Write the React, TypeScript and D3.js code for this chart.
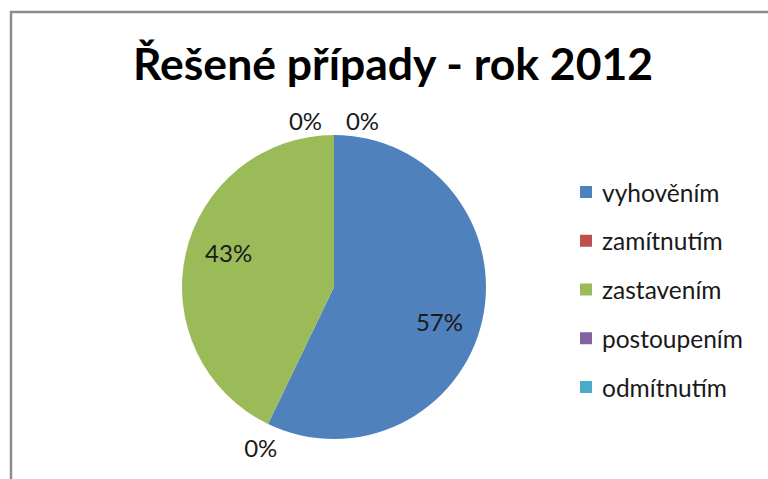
import React from 'react';
import * as d3 from 'd3';

const categories = ['vyhověním', 'zamítnutím', 'zastavením', 'postoupením', 'odmítnutím'];
const counts = [4, 0, 3, 0, 0];
const colors = ['#4F81BD', '#C0504D', '#9BBB59', '#8064A2', '#4BACC6'];
const title = 'Řešené případy - rok 2012';

const W = 768;
const H = 479;
const font = 'Lato, "Open Sans", sans-serif';

const App = () => {
  const cx = 334;
  const cy = 287;
  const r = 152;

  const total = d3.sum(counts);
  const pie = d3
    .pie<number>()
    .sort(null)
    .startAngle(0)
    .endAngle(2 * Math.PI)
    .value((d) => d);
  const arcs = pie(counts);

  const arc = d3.arc<d3.PieArcDatum<number>>().innerRadius(0).outerRadius(r);

  // inside labels sit a little clockwise of the slice middle, like Excel's best fit
  const inside = (a: d3.PieArcDatum<number>) => {
    const ang = (a.startAngle + a.endAngle) / 2 + 0.094;
    return [Math.sin(ang) * 111, -Math.cos(ang) * 111];
  };

  const legendY = d3
    .scalePoint<string>()
    .domain(categories)
    .range([192, 387]);

  const fmt = (v: number) => `${Math.round((v / total) * 100)}%`;

  // zero slices get their labels outside; ones stacked on the same angle are pushed apart
  const outside = (a: d3.PieArcDatum<number>) => {
    const ang = a.startAngle;
    const atTop = Math.abs(ang - 2 * Math.PI) < 1e-6 || ang < 1e-6;
    const R = atTop ? 167 : 178;
    let x = Math.sin(ang) * R;
    const y = -Math.cos(ang) * R;
    if (atTop) {
      const stacked = arcs.filter((b) => b.value === 0 && Math.abs(b.startAngle - ang) < 1e-6);
      const k = stacked.indexOf(a);
      x += (k - (stacked.length - 1) / 2) * 57;
    } else {
      x += 4;
    }
    return [x, y];
  };

  return (
    <svg
      width={W}
      height={H}
      style={{ position: 'absolute', left: 0, top: 0, background: '#fff' }}
      fontFamily={font}
    >
      <rect x={0} y={0} width={W} height={H} fill="#fff" />
      <path d={`M11,${H} V12 H${W}`} fill="none" stroke="#8c8c8c" strokeWidth={2.5} />

      <text x={393} y={80} textAnchor="middle" fontSize={44.5} fontWeight="bold" fill="#000">
        {title}
      </text>

      <g transform={`translate(${cx},${cy})`}>
        {arcs.map((a, i) => (
          <path key={categories[i]} d={arc(a) || ''} fill={colors[i]} />
        ))}
        {arcs.map((a, i) => {
          const [x, y] = a.value > 0 ? inside(a) : outside(a);
          return (
            <text
              key={'l' + i}
              x={x}
              y={y}
              textAnchor="middle"
              dominantBaseline="central"
              fontSize={24}
              fill="#1a1a1a"
            >
              {fmt(a.value)}
            </text>
          );
        })}
      </g>

      <g>
        {categories.map((c, i) => (
          <g key={c} transform={`translate(580,${legendY(c)})`}>
            <rect x={0} y={-6} width={12} height={12} fill={colors[i]} />
            <text x={22} y={0} dominantBaseline="central" fontSize={24.5} fill="#1a1a1a">
              {c}
            </text>
          </g>
        ))}
      </g>
    </svg>
  );
};

export default App;
